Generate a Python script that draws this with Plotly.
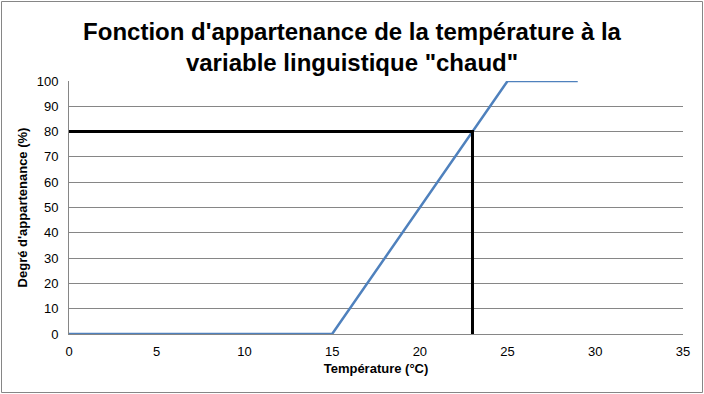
import plotly.graph_objects as go

temp = [0, 15, 25, 29]
degre = [0, 0, 100, 100]
mark_x = [0, 23, 23]
mark_y = [80, 80, 0]

fig = go.Figure()
fig.add_trace(go.Scatter(x=temp, y=degre, mode="lines",
                         line=dict(color="#4F81BD", width=2.5), showlegend=False))
fig.add_trace(go.Scatter(x=mark_x, y=mark_y, mode="lines",
                         line=dict(color="black", width=3), showlegend=False))

W, H = 704, 394
l, r, t, b = 69, 21, 81, 60
pw, ph = W - l - r, H - t - b

fig.update_layout(
    width=W, height=H,
    margin=dict(l=l, r=r, t=t, b=b),
    paper_bgcolor="white", plot_bgcolor="white",
    font=dict(family="Liberation Sans, Arial", size=13, color="black"),
    title=dict(text="Fonction d'appartenance de la température à la<br>variable linguistique \"chaud\"",
               x=0.5, xanchor="center", y=1 - 40 / H, yanchor="middle",
               font=dict(size=24, family="Liberation Sans, Arial", color="black", weight="bold")),
    xaxis=dict(range=[0, 35], tickvals=[0, 5, 10, 15, 20, 25, 30, 35], showgrid=False,
               showline=True, linecolor="#868686", linewidth=1, zeroline=False,
               ticks="", ticklen=0, ticklabelstandoff=5, tickfont=dict(size=13),
               title=dict(text="<b>Température (°C)</b>", standoff=6, font=dict(size=13))),
    yaxis=dict(range=[0, 100], tickvals=list(range(0, 101, 10)), showgrid=True,
               gridcolor="#868686", gridwidth=1, showline=True, linecolor="#868686",
               linewidth=1, zeroline=False, ticks="", ticklabelstandoff=7, tickfont=dict(size=13),
               title=dict(text="<b>Degré d'appartenance (%)</b>", standoff=6, font=dict(size=13))),
    shapes=[dict(type="rect", xref="paper", yref="paper",
                 x0=-(l - 1.5) / pw, x1=1 + (r - 1.5) / pw,
                 y0=-(b - 1.5) / ph, y1=1 + (t - 1.5) / ph,
                 line=dict(color="#868686", width=1), layer="below")],
)

fig.write_html("out.html", config={"displayModeBar": False},
               post_script="document.body.style.margin='0';")
